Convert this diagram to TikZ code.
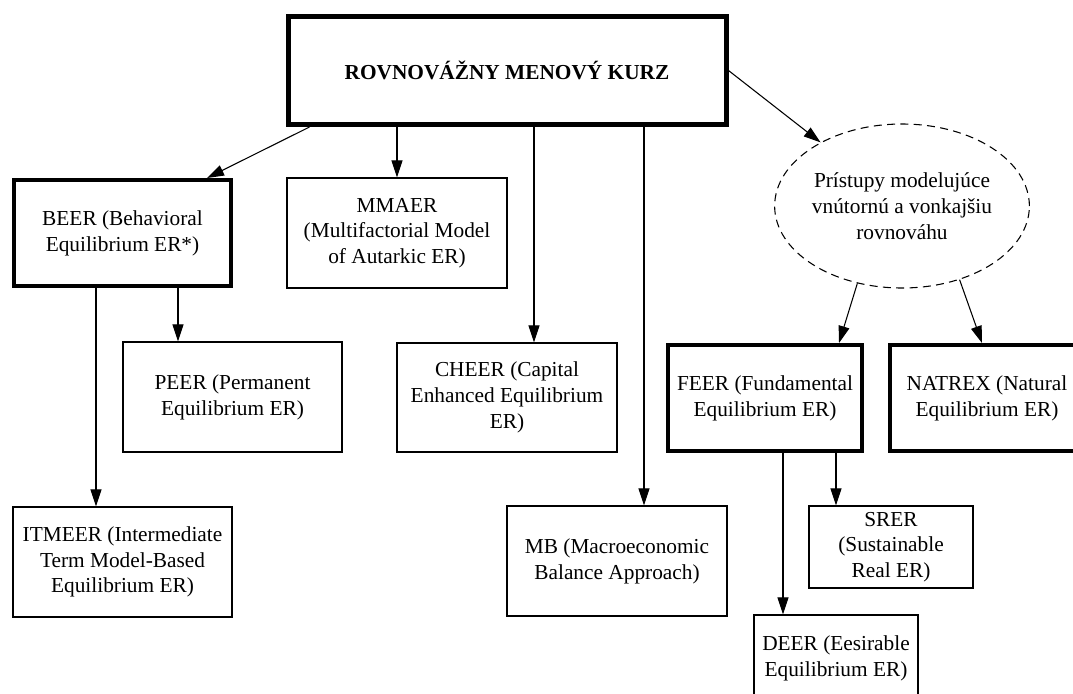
\documentclass[tikz,border=0pt]{standalone}
\usepackage{fontspec}
\setmainfont{Liberation Serif}
\usetikzlibrary{arrows.meta,calc,shapes.geometric}

\tikzset{
  wh/.style 2 args={minimum width={#1*0.75pt},minimum height={#2*0.75pt}},
  txt/.style={font=\fontsize{16}{19.3}\selectfont, align=center, inner sep=0pt},
  thinbox/.style={txt, draw, rectangle, line width=0.9pt},
  thickbox/.style={txt, draw, rectangle, line width=3pt},
  topbox/.style={txt, draw, rectangle, line width=3.75pt, font=\fontsize{16}{19.3}\selectfont\bfseries},
  dashell/.style={txt, draw, ellipse, line width=0.8pt, dash pattern=on 6pt off 4pt},
  arr/.style={line width=0.8pt, -{Triangle[length=12.75pt,width=8.25pt]}}
}

\begin{document}
\begin{tikzpicture}[x=0.75pt,y=-0.75pt]
  \useasboundingbox (0,0) rectangle (1073,693);
  \fill[white] (0,0) rectangle (1073,693);
  \clip (0,0) rectangle (1073,693);

  % root
  \node[topbox, wh={438}{108}] (main) at (507,70.5) {ROVNOVÁŽNY MENOVÝ KURZ};

  % first level
  \node[thickbox, wh={217}{106}] (BEER) at (122.5,233) {BEER (Behavioral\\Equilibrium ER*)};
  \node[thinbox, wh={220}{110}] (MMAER) at (397,233) {MMAER\\(Multifactorial Model\\of Autarkic ER)};
  \node[dashell, wh={240}{164}] (ell) at (902,206) {Prístupy modelujúce\\vnútornú a vonkajšiu\\rovnováhu};

  % second level
  \node[thinbox, wh={219}{110}] (PEER) at (232.5,397) {PEER (Permanent\\Equilibrium ER)};
  \node[thinbox, wh={220}{109}] (CHEER) at (507,397.5) {CHEER (Capital\\Enhanced Equilibrium\\ER)};
  \node[thickbox, wh={194}{106}] (FEER) at (765,398) {FEER (Fundamental\\Equilibrium ER)};
  \node[thickbox, wh={194}{106}] (NATREX) at (987,398) {NATREX (Natural\\Equilibrium ER)};

  % third level
  \node[thinbox, wh={219}{110}] (ITMEER) at (122.5,562) {ITMEER (Intermediate\\Term Model-Based\\Equilibrium ER)};
  \node[thinbox, wh={220}{110}] (MB) at (617,561) {MB (Macroeconomic\\Balance Approach)};
  \node[thinbox, wh={164}{82}] (SRER) at (891,547) {SRER\\(Sustainable\\Real ER)};
  \node[thinbox, wh={164}{86}] (DEER) at (836,658) {DEER (Eesirable\\Equilibrium ER)};

  % attachment points of the vertical connectors
  \coordinate (toCHEER) at ($(CHEER.north)+(27,0)$);
  \coordinate (toMB) at ($(MB.north)+(27,0)$);
  \coordinate (toPEER) at ($(PEER.north)+(-54.5,0)$);
  \coordinate (toITMEER) at ($(ITMEER.north)+(-26.5,0)$);
  \coordinate (toSRER) at ($(SRER.north)+(-55,0)$);
  \coordinate (toDEER) at ($(DEER.north)+(-53,0)$);

  % connectors from the root
  \draw[arr] ($(main.south west)+(24,0)$) -- ($(BEER.north east)+(-26,0)$);
  \draw[arr] (main.south -| MMAER.north) -- (MMAER.north);
  \draw[arr] (toCHEER |- main.south) -- (toCHEER);
  \draw[arr] (toMB |- main.south) -- (toMB);
  \draw[arr] (main.east) -- (ell);

  % connectors from BEER
  \draw[arr] (toPEER |- BEER.south) -- (toPEER);
  \draw[arr] (toITMEER |- BEER.south) -- (toITMEER);

  % connectors from the ellipse
  \draw[arr] (ell.240) -- ($(FEER.north)+(74,0)$);
  \draw[arr] (ell.308) -- ($(NATREX.north)+(-5,0)$);

  % connectors from FEER
  \draw[arr] (toSRER |- FEER.south) -- (toSRER);
  \draw[arr] (toDEER |- FEER.south) -- (toDEER);
\end{tikzpicture}
\end{document}
